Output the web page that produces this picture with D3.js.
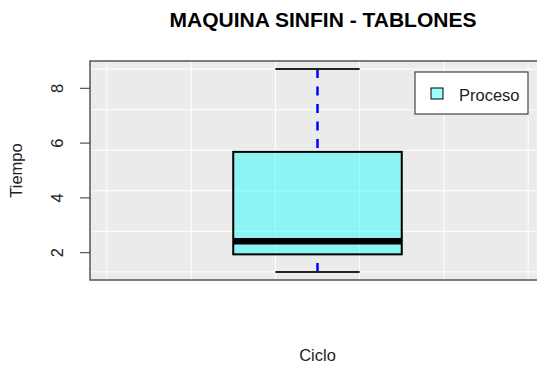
<!DOCTYPE html>
<html>
<head>
<meta charset="utf-8">
<script src="https://cdn.jsdelivr.net/npm/d3@7"></script>
<style>
  body { margin: 0; background: #fff; }
  text { font-family: "Liberation Sans", Arial, sans-serif; }
</style>
</head>
<body>
<svg width="537" height="366"></svg>
<script>
// data
var categories = ["Proceso"];
var boxStats = [1.3, 1.94, 2.42, 5.68, 8.7];   // min, q1, median, q3, max
var yTicks = [2, 4, 6, 8];
var gridY = [1.3, 2.78, 4.26, 5.74, 7.22, 8.7];
var gridX = [0.5, 0.7, 0.9, 1.1, 1.3, 1.5];

var svg = d3.select("svg");

var pLeft = 90, pRight = 545, pTop = 61, pBottom = 280;
var yr = boxStats[4] - boxStats[0];

var x = d3.scaleLinear().domain([0.46, 1.54]).range([pLeft, pRight]);
var y = d3.scaleLinear()
    .domain([boxStats[0] - 0.04 * yr, boxStats[4] + 0.04 * yr])
    .range([pBottom, pTop]);

// background
svg.append("rect")
    .attr("x", pLeft).attr("y", pTop)
    .attr("width", pRight - pLeft).attr("height", pBottom - pTop)
    .attr("fill", "#ebebeb");

svg.selectAll(".gy").data(gridY).enter().append("line")
    .attr("class", "gy")
    .attr("x1", pLeft).attr("x2", pRight)
    .attr("y1", function(d) { return y(d); })
    .attr("y2", function(d) { return y(d); })
    .attr("stroke", "#fff").attr("stroke-width", 1);

svg.selectAll(".gx").data(gridX).enter().append("line")
    .attr("class", "gx")
    .attr("y1", pTop).attr("y2", pBottom)
    .attr("x1", function(d) { return x(d); })
    .attr("x2", function(d) { return x(d); })
    .attr("stroke", "#fff").attr("stroke-width", 1);

// box
var g = svg.append("g");
var cx = x(1);

// whiskers (drawn from the ends towards the box)
g.append("line")
    .attr("x1", cx).attr("x2", cx)
    .attr("y1", y(boxStats[4])).attr("y2", y(boxStats[3]))
    .attr("stroke", "#0000ff").attr("stroke-width", 2.5)
    .attr("stroke-dasharray", "9,8.5");
g.append("line")
    .attr("x1", cx).attr("x2", cx)
    .attr("y1", y(boxStats[0])).attr("y2", y(boxStats[1]))
    .attr("stroke", "#0000ff").attr("stroke-width", 2.5)
    .attr("stroke-dasharray", "9,8.5");

// caps
[boxStats[0], boxStats[4]].forEach(function(v) {
    g.append("line")
        .attr("x1", x(0.9)).attr("x2", x(1.1))
        .attr("y1", y(v)).attr("y2", y(v))
        .attr("stroke", "#222").attr("stroke-width", 2);
});

g.append("rect")
    .attr("x", x(0.8)).attr("width", x(1.2) - x(0.8))
    .attr("y", y(boxStats[3]))
    .attr("height", y(boxStats[1]) - y(boxStats[3]))
    .attr("fill", "cyan").attr("fill-opacity", 0.4)
    .attr("stroke", "#000").attr("stroke-width", 2);

g.append("line")
    .attr("x1", x(0.8)).attr("x2", x(1.2))
    .attr("y1", y(boxStats[2])).attr("y2", y(boxStats[2]))
    .attr("stroke", "#000").attr("stroke-width", 6.5);

// plot border
svg.append("rect")
    .attr("x", pLeft).attr("y", pTop)
    .attr("width", pRight - pLeft).attr("height", pBottom - pTop)
    .attr("fill", "none").attr("stroke", "#555").attr("stroke-width", 1.5);

// y axis
var yAxis = svg.append("g");
yAxis.selectAll("line").data(yTicks).enter().append("line")
    .attr("x1", 80).attr("x2", pLeft)
    .attr("y1", function(d) { return y(d); })
    .attr("y2", function(d) { return y(d); })
    .attr("stroke", "#333").attr("stroke-width", 1);
yAxis.selectAll("text").data(yTicks).enter().append("text")
    .attr("transform", function(d) { return "translate(63," + y(d) + ") rotate(-90)"; })
    .attr("text-anchor", "middle")
    .attr("font-size", "16.5px")
    .attr("fill", "#222")
    .text(function(d) { return d; });

// labels
svg.append("text")
    .attr("x", 323).attr("y", 27)
    .attr("text-anchor", "middle")
    .attr("font-size", "21px").attr("font-weight", "bold")
    .attr("fill", "#000")
    .text("MAQUINA SINFIN - TABLONES");

svg.append("text")
    .attr("transform", "translate(22," + (pTop + pBottom) / 2 + ") rotate(-90)")
    .attr("text-anchor", "middle")
    .attr("font-size", "16.5px").attr("fill", "#222")
    .text("Tiempo");

svg.append("text")
    .attr("x", x(1)).attr("y", 361)
    .attr("text-anchor", "middle")
    .attr("font-size", "16.5px").attr("fill", "#222")
    .text("Ciclo");

// legend
var lg = svg.append("g");
lg.append("rect")
    .attr("x", 415).attr("y", 72)
    .attr("width", 113).attr("height", 42)
    .attr("fill", "#fff").attr("stroke", "#444").attr("stroke-width", 1.2);
lg.append("rect")
    .attr("x", 431).attr("y", 88)
    .attr("width", 12).attr("height", 11)
    .attr("fill", "#99ffff").attr("stroke", "#000").attr("stroke-width", 1);
lg.append("text")
    .attr("x", 459).attr("y", 101)
    .attr("font-size", "16.5px").attr("fill", "#222")
    .text(categories[0]);
</script>
</body>
</html>
